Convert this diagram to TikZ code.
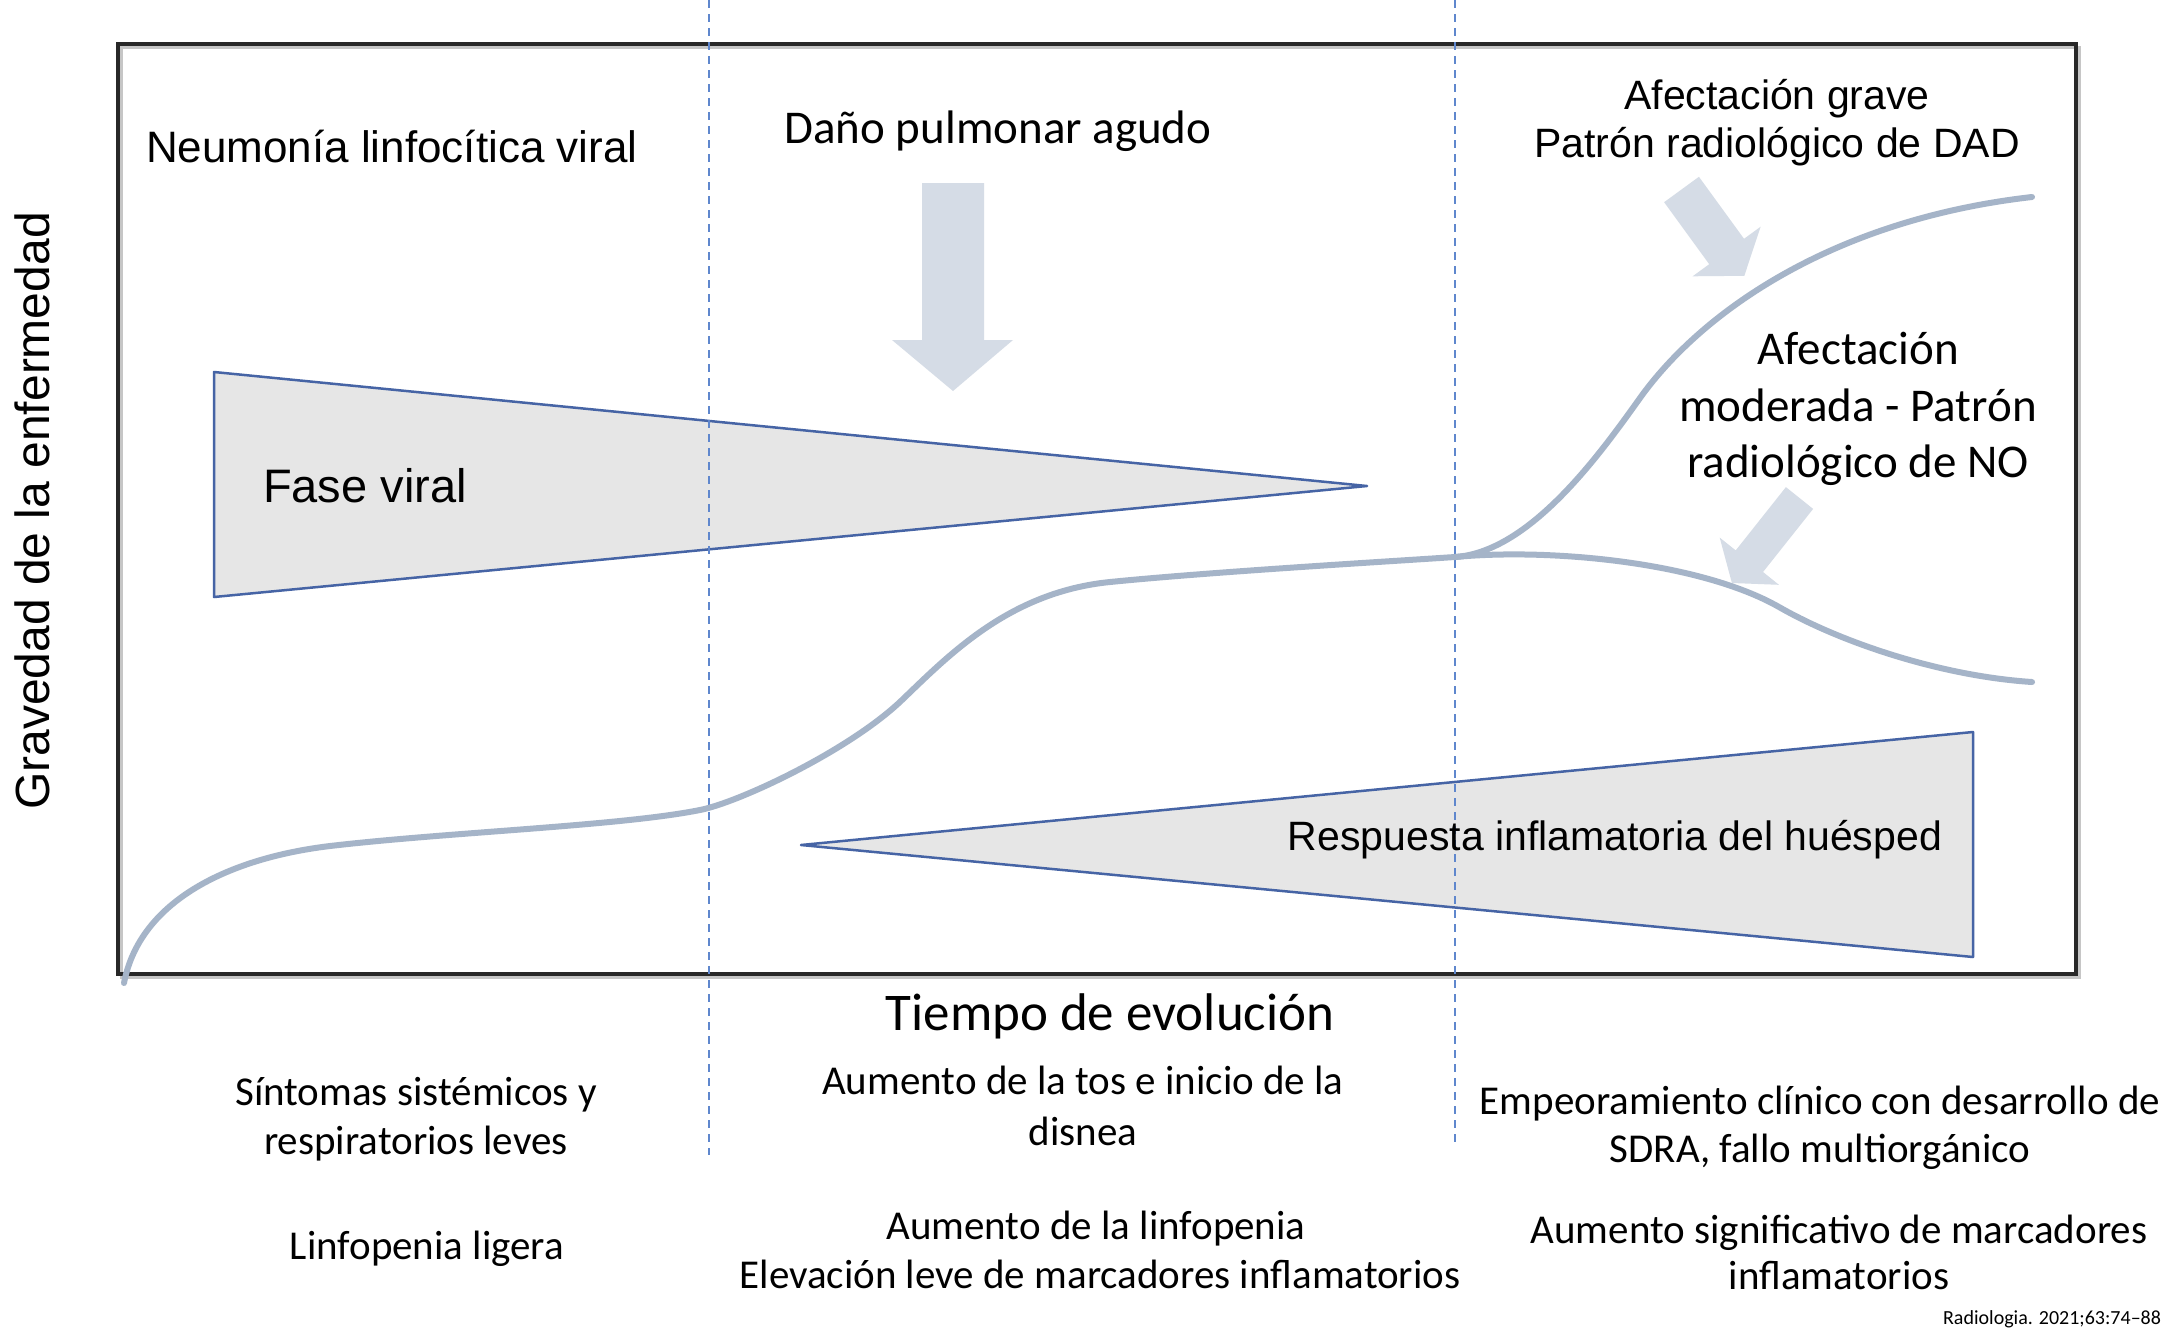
\documentclass[tikz,border=0pt]{standalone}
\usepackage{fontspec}
\setmainfont{Liberation Sans}
\newfontfamily\arialf{Liberation Sans}
\newfontfamily\calibf{Carlito}
\newcommand\myA[1]{\arialf\fontsize{#1}{#1}\selectfont}
\newcommand\myC[1]{\calibf\fontsize{#1}{#1}\selectfont}
\definecolor{curvecol}{RGB}{165,180,200}
\definecolor{arrowcol}{RGB}{213,220,230}
\definecolor{trifill}{RGB}{230,230,230}
\definecolor{triline}{RGB}{70,100,165}
\definecolor{dashcol}{RGB}{95,135,205}
\definecolor{boxcol}{RGB}{40,40,40}
\tikzset{
  txt/.style={inner sep=0pt, outer sep=0pt, text=black},
  wedge/.style={fill=trifill, draw=triline, line width=2.5pt, line join=round},
  fatarrow/.style={fill=arrowcol, draw=none},
  course/.style={draw=curvecol, line width=6pt, line cap=round},
  divider/.style={draw=dashcol, line width=2.8pt, dash pattern=on 8pt off 6pt},
}
\begin{document}
\begin{tikzpicture}[x=1pt,y=-1pt]
\useasboundingbox (0,0) rectangle (2175,1341);
\fill[white] (0,0) rectangle (2175,1341);

% plot frame
\draw[gray!45, line width=3pt] (121,47) rectangle (2079,977);
\draw[boxcol, line width=3.5pt] (118,44) rectangle (2076,974);

% wedges
\draw[wedge] (214,372) -- (1367,486) -- (214,597) -- cycle;
\draw[wedge] (801,845) -- (1973,732) -- (1973,957) -- cycle;

% dividers
\coordinate (d1top) at (709,0);
\coordinate (d1bot) at (709,1155);
\coordinate (d2top) at (1455,0);
\coordinate (d2bot) at (1455,1142);
\draw[divider] (d1top) -- (d1bot);
\draw[divider] (d2top) -- (d2bot);

% block arrows
\fill[fatarrow] (922,183) -- (984,183) -- (984,340) -- (1013,340) -- (953,391) -- (892,340) -- (922,340) -- cycle;
\fill[fatarrow] (1664.1,202.2) -- (1698.9,176.8) -- (1744,238.8) -- (1760.6,226.7) -- (1744.3,275.8) -- (1692.6,276.3) -- (1709.2,264.2) -- cycle;
\fill[fatarrow] (1785.9,487.1) -- (1813.1,508.9) -- (1763,572) -- (1778.9,584.8) -- (1731.9,583) -- (1719.7,537.6) -- (1735.7,550.4) -- cycle;

% severity curves
\coordinate (cstart) at (124,983);
\coordinate (branch) at (1455,557);
\coordinate (grave) at (2032,197);
\coordinate (moder) at (2032,682);
\draw[course] (cstart) .. controls (140,900) and (230,858) .. (330,846)
  .. controls (450,832) and (620,826) .. (700,810)
  .. controls (740,802) and (850,750) .. (902,700)
  .. controls (950,654) and (1010,592) .. (1110,582)
  .. controls (1210,572) and (1380,562) .. (branch)
  .. controls (1530,552) and (1600,454) .. (1640,398)
  .. controls (1700,314) and (1830,220) .. (grave);
\draw[course] (branch) .. controls (1550,548) and (1700,562) .. (1779,607)
  .. controls (1840,642) and (1940,676) .. (moder);

% texts
\node[txt, rotate=90] (ylab) at (32,511) {\myA{48}Gravedad de la enfermedad};
\node[txt, anchor=base west] (neum) at (146,162) {\myA{44}Neumonía linfocítica viral};
\node[txt, anchor=base] (dano) at (998,143) {\myC{47}Daño pulmonar agudo};
\node[txt, anchor=base] (grave1) at (1777,109) {\myA{41}Afectación grave};
\node[txt, anchor=base] (grave2) at (1777,157) {\myA{41}Patrón radiológico de DAD};
\node[txt, anchor=base] (mod1) at (1858,364) {\myC{47}Afectación};
\node[txt, anchor=base] (mod2) at (1858,421) {\myC{47}moderada - Patrón};
\node[txt, anchor=base] (mod3) at (1858,477) {\myC{47}radiológico de NO};
\node[txt, anchor=base west] (fase) at (263,502) {\myA{47}Fase viral};
\node[txt, anchor=base east] (resp) at (1942,850) {\myA{41}Respuesta inflamatoria del huésped};
\node[txt, anchor=base] (tiempo) at (1110,1030) {\myC{53}Tiempo de evolución};

\node[txt, anchor=base] (s1) at (416,1105) {\myC{41}Síntomas sistémicos y};
\node[txt, anchor=base] (s2) at (416,1154) {\myC{41}respiratorios leves};
\node[txt, anchor=base] (lin) at (427,1259) {\myC{41}Linfopenia ligera};
\node[txt, anchor=base] (a1) at (1083,1094) {\myC{41}Aumento de la tos e inicio de la};
\node[txt, anchor=base] (a2) at (1083,1145) {\myC{41}disnea};
\node[txt, anchor=base] (b1) at (1096,1239) {\myC{41}Aumento de la linfopenia};
\node[txt, anchor=base] (b2) at (1100,1288) {\myC{41}Elevación leve de marcadores inflamatorios};
\node[txt, anchor=base] (e1) at (1820,1114) {\myC{41}Empeoramiento clínico con desarrollo de};
\node[txt, anchor=base] (e2) at (1820,1162) {\myC{41}SDRA, fallo multiorgánico};
\node[txt, anchor=base] (m1) at (1839,1243) {\myC{41}Aumento significativo de marcadores};
\node[txt, anchor=base] (m2) at (1839,1289) {\myC{41}inflamatorios};
\node[txt, anchor=base east] (cite) at (2161,1324) {\myC{20}Radiologia. 2021;63:74–88};
\end{tikzpicture}
\end{document}
